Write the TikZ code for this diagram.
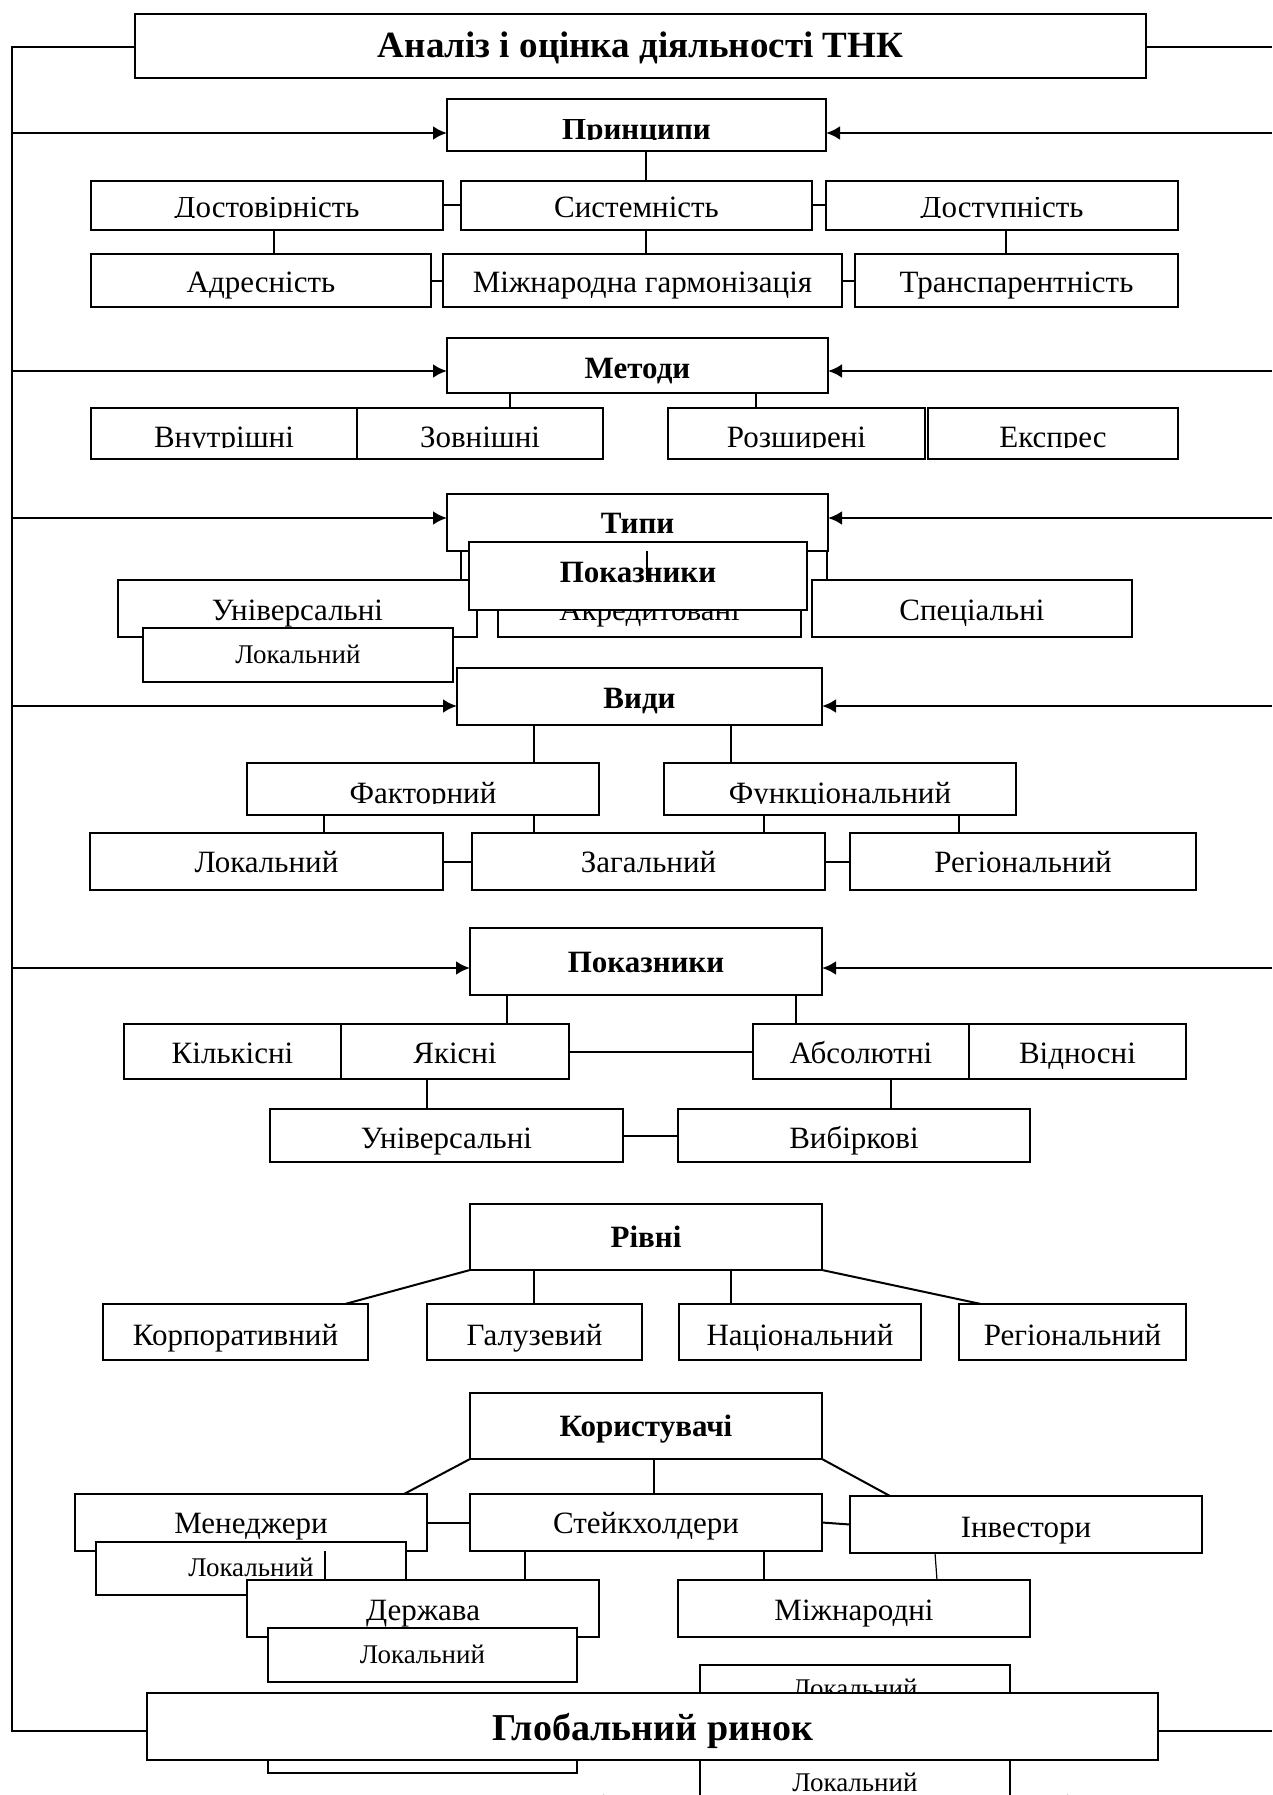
\documentclass[tikz,border=0pt]{standalone}
\usepackage{fontspec}
\setmainfont{Liberation Serif}
\usepackage{trimclip}
\usetikzlibrary{arrows.meta}

% text cut off at its baseline
\newcommand{\cut}[1]{\clipbox{0pt {\depth} 0pt 0pt}{#1}}

\tikzset{
    box/.style={draw, fill=white, line width=1.7pt, inner sep=0pt, outer sep=0pt,
        font=\fontsize{31}{36}\selectfont, text height=23pt, text depth=0pt},
    head/.style={box, font=\fontsize{31}{36}\selectfont\bfseries, text height=21pt},
    big/.style={box, font=\fontsize{37}{44}\selectfont\bfseries, text height=25pt},
    small/.style={box, font=\fontsize{27}{32}\selectfont, text height=16pt},
    capt/.style={inner sep=0pt, font=\fontsize{32}{38}\selectfont\bfseries},
    sz/.style 2 args={minimum width=#1pt, minimum height=#2pt},
    link/.style={line width=1.2pt},
    tie/.style={line width=2pt},
    rail/.style={line width=2pt},
    arr/.style={line width=2.8pt, -{Latex[length=14pt,width=14pt]}}
}

\begin{document}
\begin{tikzpicture}[x=1pt, y=-1pt]
  \useasboundingbox (0,0) rectangle (1272,1795);
  \clip (0,0) rectangle (1272,1795);

  % title and frame
  \node[big, sz={1011}{64}, text height=24pt] (ttl) at (640.5,46) {Аналіз і оцінка діяльності ТНК};
  \coordinate (rtop) at (12,47);
  \coordinate (rbot) at (12,1731);
  \coordinate (etop) at (1272,47);
  \coordinate (ebot) at (1272,1731);

  % principles
  \node[head, sz={379}{52}, text height=30pt] (pr) at (636.5,125) {\cut{Принципи}};
  \node[box, sz={352}{49}, text height=25pt] (dst) at (267,205.5) {\cut{Достовірність}};
  \node[box, sz={351}{49}, text height=25pt] (sys) at (636.5,205.5) {Системність};
  \node[box, sz={352}{49}, text height=25pt] (dsp) at (1002,205.5) {\cut{Доступність}};
  \node[box, sz={340}{53}] (adr) at (261,280.5) {Адресність};
  \node[box, sz={399}{53}] (mjh) at (642.5,280.5) {Міжнародна гармонізація};
  \node[box, sz={323}{53}] (trn) at (1016.5,280.5) {Транспарентність};

  % methods
  \node[head, sz={381}{55}, text height=25pt] (mt) at (637.5,365.5) {Методи};
  \node[box, sz={266}{51}, text height=27pt] (vnt) at (224,433.5) {\cut{Внутрішні}};
  \node[box, sz={246}{51}, text height=27pt] (zvn) at (480,433.5) {Зовнішні};
  \node[box, sz={257}{51}, text height=27pt] (roz) at (796.5,433.5) {\cut{Розширені}};
  \node[box, sz={250}{51}, text height=27pt] (eks) at (1053,433.5) {\cut{Експрес}};

  % types
  \node[head, sz={381}{57}] (tp) at (637.5,522.5) {Типи};
  \node[box, sz={359}{57}] (unv) at (297.5,608.5) {Універсальні};
  \node[box, sz={303}{57}] (akr) at (649.5,608.5) {Акредитовані};
  \node[box, sz={320}{57}] (spc) at (972,608.5) {Спеціальні};
  \node[head, sz={338}{68}, text height=18pt, text depth=6pt] (pk0) at (638,576) {Показники};
  \node[small, sz={310}{54}] (lk1) at (298,655) {Локальний};

  % kinds
  \node[head, sz={365}{57}, text height=23pt] (vd) at (639.5,696.5) {Види};
  \node[box, sz={352}{52}, text height=28pt] (fkt) at (423,789) {\cut{Факторний}};
  \node[box, sz={352}{52}, text height=28pt] (fnk) at (840,789) {\cut{Функціональний}};
  \node[box, sz={353}{57}, text height=21pt] (lk2) at (266.5,861.5) {Локальний};
  \node[box, sz={353}{57}, text height=21pt] (zag) at (648.5,861.5) {Загальний};
  \node[box, sz={346}{57}, text height=21pt] (rgn) at (1023,861.5) {Регіональний};

  % indicators
  \node[head, sz={352}{67}] (pk) at (646,961.5) {Показники};
  \node[box, sz={217}{55}] (kil) at (232.5,1051.5) {Кількісні};
  \node[box, sz={228}{55}] (yak) at (455,1051.5) {Якісні};
  \node[box, sz={216}{55}] (abs) at (861,1051.5) {Абсолютні};
  \node[box, sz={217}{55}] (vdn) at (1077.5,1051.5) {Відносні};
  \node[box, sz={353}{53}, text height=25pt] (un2) at (446.5,1135.5) {Універсальні};
  \node[box, sz={352}{53}, text height=25pt] (vbr) at (854,1135.5) {Вибіркові};

  % levels
  \node[head, sz={352}{66}] (rv) at (646,1237) {Рівні};
  \node[box, sz={265}{56}, text height=26pt] (kor) at (235.5,1332) {Корпоративний};
  \node[box, sz={215}{56}, text height=26pt] (gal) at (534.5,1332) {Галузевий};
  \node[box, sz={242}{56}, text height=26pt] (nat) at (800,1332) {Національний};
  \node[box, sz={227}{56}, text height=26pt] (rg2) at (1072.5,1332) {Регіональний};

  % users
  \node[head, sz={352}{66}] (ks) at (646,1426) {Користувачі};
  \node[box, sz={352}{57}, text height=21pt] (mng) at (251,1522.5) {Менеджери};
  \node[box, sz={352}{57}, text height=21pt] (stk) at (646,1522.5) {Стейкхолдери};
  \node[box, sz={352}{57}, text height=25pt] (inv) at (1026,1524.5) {Інвестори};
  \node[small, sz={310}{53}] (lk3) at (251,1568.5) {Локальний};
  \node[box, sz={352}{57}] (drz) at (423,1608.5) {Держава};
  \node[box, sz={352}{57}] (mjn) at (854,1608.5) {Міжнародні};
  \node[small, sz={309}{54}] (lk4) at (422.5,1655) {Локальний};

  % caption under the picture, cut by the page edge
  \node[capt, anchor=base west] (cp1) at (101,1817) {Рис. 2.4 –\hspace{40pt}Г};
  \node[capt, anchor=base west] (cp2) at (599,1817) {і};
  \node[capt, anchor=base west] (cp3) at (1063,1817) {і};
  \node[capt, anchor=base east] (cp4) at (1183,1817) {ТНК};

  % global market
  \node[small, sz={310}{48}] (lk5) at (855,1689) {Локальний};
  \node[box, sz={309}{53}] (lk6) at (422.5,1746.5) {};
  \node[small, sz={310}{56}] (lk7) at (855,1783) {Локальний};
  \node[big, sz={1011}{67}, font=\fontsize{38}{46}\selectfont\bfseries, text height=27pt] (gl) at (652.5,1726.5) {Глобальний ринок};

  \draw[rail] (ttl.west |- rtop) -- (rtop) -- (rbot) -- (gl.west |- rbot);
  \draw[rail] (ttl.east |- etop) -- (etop);
  \draw[rail] (gl.east |- ebot) -- (ebot);

  \foreach \a/\b/\x in {pr/sys/646, dst/adr/274, sys/mjh/646, dsp/trn/1006,
      mt/zvn/510, mt/roz/756, tp/unv/461, tp/akr/647, tp/spc/827,
      vd/fkt/534, vd/fnk/731, fkt/lk2/324, fkt/zag/534, fnk/zag/764, fnk/rgn/959,
      pk/yak/507, pk/abs/796, yak/un2/427, abs/vbr/891, rv/gal/534, rv/nat/731,
      ks/stk/654, mng/drz/325, stk/drz/525, stk/mjn/764}
    \draw[link] (\a.south -| \x,0) -- (\b.north -| \x,0);

  \foreach \a/\b in {dst/sys, sys/dsp, adr/mjh, mjh/trn, lk2/zag, zag/rgn,
      yak/abs, un2/vbr, mng/stk, stk/inv}
    \draw[tie] (\a.east) -- (\b.west);

  \draw[tie] (rv.south west) -- (kor.north -| 345,0);
  \draw[tie] (rv.south east) -- (rg2.north -| 981,0);
  \draw[tie] (ks.south west) -- (mng.north -| 404,0);
  \draw[tie] (ks.south east) -- (inv.north -| 890,0);
  \draw[link] (inv.south -| 935,0) -- (mjn.north -| 937,0);

  \foreach \n/\y in {pr/133, mt/371, tp/518, vd/706, pk/968} {
    \draw[arr] (12,\y) -- (\n.west |- 12,\y);
    \draw[arr] (1272,\y) -- (\n.east |- 12,\y);
  }
\end{tikzpicture}
\end{document}
